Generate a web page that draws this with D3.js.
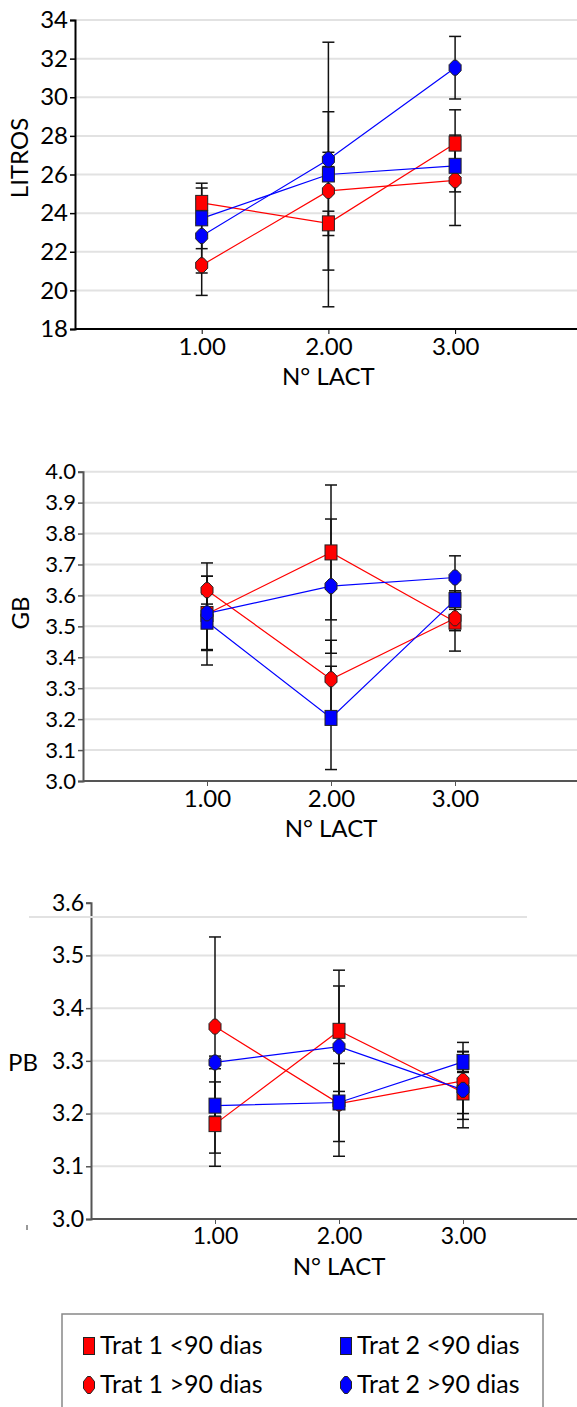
<!DOCTYPE html>
<html>
<head>
<meta charset="utf-8">
<script src="https://cdn.jsdelivr.net/npm/d3@7"></script>
<style>
  body { margin: 0; background: #fff; }
  text { font-family: Lato, "Open Sans", sans-serif; fill: #000; }
</style>
</head>
<body>
<div id="vis"></div>
<script>
// categories and labels
const categories = [1, 2, 3];
const xTickLabels = ["1.00", "2.00", "3.00"];
const seriesNames = ["Trat 1 <90 dias", "Trat 1 >90 dias", "Trat 2 <90 dias", "Trat 2 >90 dias"];
const seriesColors = ["#ff0000", "#ff0000", "#0000ff", "#0000ff"];
const seriesShapes = ["square", "circle", "square", "circle"];

// LITROS
const litrosT1a = [24.53, 23.47, 27.6];
const litrosT1aErr = [1.02, 0.63, 1.75];
const litrosT1b = [21.3, 25.15, 25.7];
const litrosT1bErr = [1.56, 4.1, 2.34];
const litrosT2a = [23.73, 26.0, 26.45];
const litrosT2aErr = [1.57, 6.85, 1.35];
const litrosT2b = [22.82, 26.78, 31.53];
const litrosT2bErr = [1.92, 0.37, 1.62];
const litrosTicks = [18, 20, 22, 24, 26, 28, 30, 32, 34];

// GB
const gbT1a = [3.54, 3.739, 3.515];
const gbT1aErr = [0.165, 0.218, 0.095];
const gbT1b = [3.617, 3.329, 3.526];
const gbT1bErr = [0.045, 0.126, 0.04];
const gbT2a = [3.515, 3.204, 3.585];
const gbT2aErr = [0.09, 0.167, 0.03];
const gbT2b = [3.542, 3.63, 3.658];
const gbT2bErr = [0.12, 0.217, 0.07];
const gbTicks = [3.0, 3.1, 3.2, 3.3, 3.4, 3.5, 3.6, 3.7, 3.8, 3.9, 4.0];

// PB
const pbT1a = [3.18, 3.357, 3.24];
const pbT1aErr = [0.08, 0.115, 0.04];
const pbT1b = [3.365, 3.219, 3.262];
const pbT1bErr = [0.17, 0.10, 0.073];
const pbT2a = [3.215, 3.221, 3.298];
const pbT2aErr = [0.09, 0.074, 0.02];
const pbT2b = [3.297, 3.327, 3.245];
const pbT2bErr = [0.012, 0.115, 0.072];
const pbTicks = [3.0, 3.1, 3.2, 3.3, 3.4, 3.5, 3.6];

const svg = d3.select("#vis")
    .append("svg")
    .attr("width", 577)
    .attr("height", 1407);

const width = 577;

// marker shape for the "circle" series (rounded octagon like the original)
const hexPts = [[-1.5, -7.5], [1.5, -7.5], [5.5, -3], [5.5, 3], [1.5, 7.5], [-1.5, 7.5], [-5.5, 3], [-5.5, -3]];

function addMarker(g, shape, color, x, y, w, h) {
    if (shape === "square") {
        g.append("rect")
            .attr("x", x - w / 2).attr("y", y - h / 2)
            .attr("width", w).attr("height", h)
            .attr("fill", color)
            .attr("stroke", "#222").attr("stroke-width", 1);
    } else {
        const sx = w / 11, sy = h / 15;
        g.append("path")
            .attr("d", d3.line()(hexPts.map(p => [x + p[0] * sx, y + p[1] * sy])) + "Z")
            .attr("fill", color)
            .attr("stroke", "#222").attr("stroke-width", 1);
    }
}

function drawPanel(p) {
    const g = svg.append("g");
    const x = d3.scaleLinear().domain([0, 4]).range([p.left, p.left + 4 * p.unit]);
    const y = d3.scaleLinear().domain(p.yDomain).range([p.bottom, p.top]);

    // gridlines
    g.selectAll(".grid")
        .data(p.grid)
        .enter().append("line")
        .attr("x1", p.left).attr("x2", width)
        .attr("y1", d => y(d)).attr("y2", d => y(d))
        .attr("stroke", "#e2e2e2").attr("stroke-width", 2);

    // y axis
    const yAxis = g.append("g")
        .attr("transform", `translate(${p.left},0)`)
        .call(d3.axisLeft(y).tickValues(p.yTicks).tickSize(5).tickPadding(2).tickFormat(p.yFmt));
    yAxis.select(".domain").attr("stroke", p.axisColor).attr("stroke-width", 2);
    yAxis.selectAll(".tick line").attr("stroke", p.axisColor).attr("stroke-width", 1.5);
    yAxis.selectAll(".tick text").attr("font-size", p.yFont).attr("fill", "#000")
        .attr("font-family", "Lato, sans-serif");

    // x axis
    const xAxis = g.append("g")
        .attr("transform", `translate(0,${p.bottom})`)
        .call(d3.axisBottom(x).tickValues(categories).tickSize(5).tickPadding(4)
            .tickFormat((d, i) => xTickLabels[i]));
    xAxis.select(".domain").attr("stroke", p.axisColor).attr("stroke-width", 2)
        .attr("d", `M${p.left},0H${width}`);
    xAxis.selectAll(".tick line").attr("stroke", p.axisColor).attr("stroke-width", 1);
    xAxis.selectAll(".tick text").attr("font-size", p.xFont).attr("fill", "#000")
        .attr("font-family", "Lato, sans-serif");

    // error bars
    const eb = g.append("g");
    p.series.forEach(s => {
        s.vals.forEach((v, i) => {
            const cx = x(categories[i]);
            const y1 = y(v + s.errs[i]), y2 = y(v - s.errs[i]);
            eb.append("line").attr("x1", cx).attr("x2", cx).attr("y1", y1).attr("y2", y2)
                .attr("stroke", "#111").attr("stroke-width", 1.5);
            [y1, y2].forEach(yy => eb.append("line")
                .attr("x1", cx - 6).attr("x2", cx + 6).attr("y1", yy).attr("y2", yy)
                .attr("stroke", "#111").attr("stroke-width", 1.5));
        });
    });

    // lines
    p.series.forEach(s => {
        g.append("path")
            .datum(s.vals)
            .attr("d", d3.line().x((d, i) => x(categories[i])).y(d => y(d)))
            .attr("fill", "none")
            .attr("stroke", s.color).attr("stroke-width", 1.2);
    });

    // markers
    p.series.forEach(s => {
        s.vals.forEach((v, i) => addMarker(g, s.shape, s.color, x(categories[i]), y(v), 12, 15));
    });

    // axis titles
    g.append("text")
        .attr("x", x(2)).attr("y", p.xTitleY)
        .attr("text-anchor", "middle").attr("font-size", p.titleFont)
        .text("N° LACT");
    if (p.yTitleRotate) {
        g.append("text")
            .attr("transform", `translate(${p.yTitleX},${p.yTitleY}) rotate(-90)`)
            .attr("text-anchor", "middle").attr("dy", "0.35em")
            .attr("font-size", p.titleFont)
            .text(p.yTitle);
    } else {
        g.append("text")
            .attr("x", p.yTitleX).attr("y", p.yTitleY)
            .attr("text-anchor", "middle").attr("dy", "0.35em")
            .attr("font-size", p.titleFont)
            .text(p.yTitle);
    }
    return { g, x, y };
}

function makeSeries(vals, errs) {
    return vals.map((v, k) => ({ vals: v, errs: errs[k], color: seriesColors[k], shape: seriesShapes[k] }));
}

// draw order: red first, blue on top
drawPanel({
    left: 75, unit: 126.7, top: 20, bottom: 329,
    yDomain: [18, 34], yTicks: litrosTicks, grid: litrosTicks.slice(1), yFmt: d3.format("d"),
    yFont: 24, xFont: 24, titleFont: 24, axisColor: "#000",
    xTitleY: 385, yTitle: "LITROS", yTitleRotate: true, yTitleX: 20, yTitleY: 158,
    series: makeSeries([litrosT1a, litrosT1b, litrosT2a, litrosT2b],
        [litrosT1aErr, litrosT1bErr, litrosT2aErr, litrosT2bErr])
});

drawPanel({
    left: 83, unit: 124, top: 471.7, bottom: 781,
    yDomain: [3.0, 4.0], yTicks: gbTicks, grid: gbTicks.slice(1), yFmt: d3.format(".1f"),
    yFont: 22, xFont: 24, titleFont: 24, axisColor: "#555",
    xTitleY: 837, yTitle: "GB", yTitleRotate: true, yTitleX: 21, yTitleY: 613,
    series: makeSeries([gbT1a, gbT1b, gbT2a, gbT2b],
        [gbT1aErr, gbT1bErr, gbT2aErr, gbT2bErr])
});

const pb = drawPanel({
    left: 91, unit: 124, top: 902.7, bottom: 1219,
    yDomain: [3.0, 3.6], yTicks: pbTicks, grid: pbTicks.slice(1, 6), yFmt: d3.format(".1f"),
    yFont: 23, xFont: 23, titleFont: 24, axisColor: "#555",
    xTitleY: 1275, yTitle: "PB", yTitleRotate: false, yTitleX: 23, yTitleY: 1063,
    series: makeSeries([pbT1a, pbT1b, pbT2a, pbT2b],
        [pbT1aErr, pbT1bErr, pbT2aErr, pbT2bErr])
});

// stray frame line above the PB plot in the original
pb.g.append("line")
    .attr("x1", 29).attr("x2", 527).attr("y1", 917).attr("y2", 917)
    .attr("stroke", "#e2e2e2").attr("stroke-width", 2);
pb.g.append("line")
    .attr("x1", 27).attr("x2", 27).attr("y1", 1225).attr("y2", 1230)
    .attr("stroke", "#333").attr("stroke-width", 1);

// legend
const legend = svg.append("g");
legend.append("rect")
    .attr("x", 62).attr("y", 1314).attr("width", 481).attr("height", 120)
    .attr("fill", "none").attr("stroke", "#888").attr("stroke-width", 1.5);

const legendCols = [89, 346];
const legendRows = [1346, 1385];
seriesNames.forEach((name, k) => {
    const cx = legendCols[Math.floor(k / 2)];
    const cy = legendRows[k % 2];
    addMarker(legend, seriesShapes[k], seriesColors[k], cx, cy, 11, 17);
    legend.append("text")
        .attr("x", cx + 11).attr("y", cy + 8)
        .attr("font-size", 25)
        .text(name);
});
</script>
</body>
</html>
